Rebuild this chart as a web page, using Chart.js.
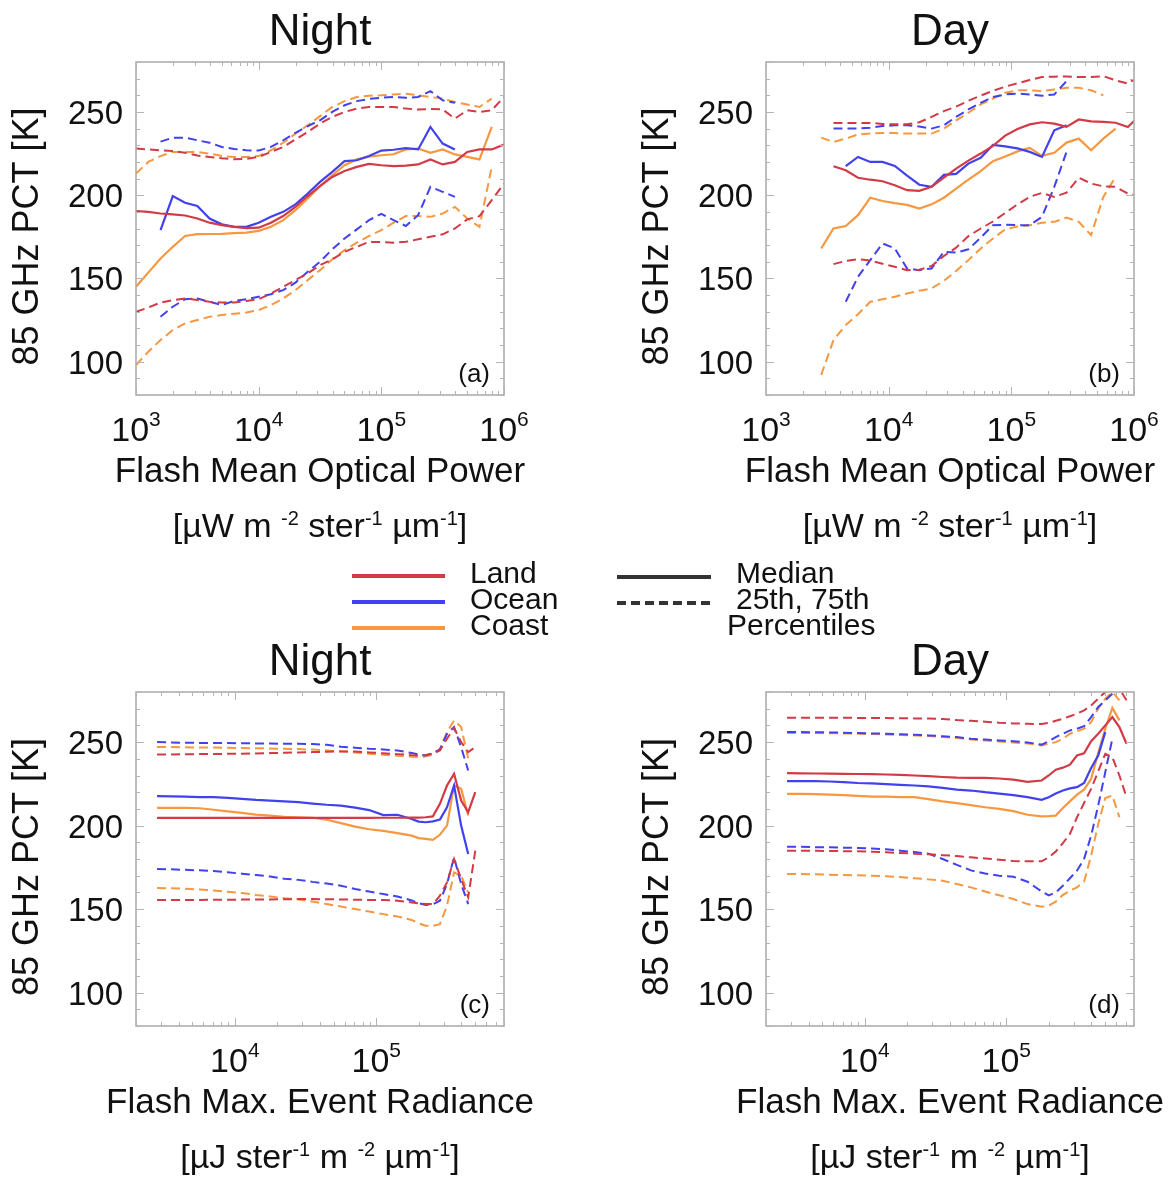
<!DOCTYPE html>
<html>
<head>
<meta charset="utf-8">
<script src="https://cdn.jsdelivr.net/npm/chart.js@4/dist/chart.umd.min.js"></script>
<style>
  html, body { margin: 0; padding: 0; background: #fff; }
  #wrap { position: relative; width: 1168px; height: 1179px; overflow: hidden;
          font-family: "Liberation Sans", Arial, Helvetica, sans-serif; color: #111; }
  #wrap canvas { position: absolute; }
  .legline { position: absolute; height: 4px; z-index: 2; }
  .legtxt { position: absolute; font-size: 30px; line-height: 30px; white-space: nowrap; z-index: 2; }
</style>
</head>
<body>
<div id="wrap">
  <canvas id="panelA" width="584" height="560" style="left:0;top:0"></canvas>
  <canvas id="panelB" width="584" height="560" style="left:584px;top:0"></canvas>
  <canvas id="panelC" width="584" height="619" style="left:0;top:560px"></canvas>
  <canvas id="panelD" width="584" height="619" style="left:584px;top:560px"></canvas>

  <div class="legline" style="left:352px;top:574px;width:93px;background:#d23a46"></div>
  <div class="legline" style="left:352px;top:600px;width:93px;background:#4141ee"></div>
  <div class="legline" style="left:352px;top:626px;width:93px;background:#f7973f"></div>
  <div class="legtxt" style="left:470px;top:558px">Land</div>
  <div class="legtxt" style="left:470px;top:584px">Ocean</div>
  <div class="legtxt" style="left:470px;top:610px">Coast</div>

  <div class="legline" style="left:617px;top:575px;width:94px;height:3.5px;background:#333"></div>
  <div class="legline" style="left:617px;top:601px;width:94px;height:3.5px;background:repeating-linear-gradient(90deg,#333 0 9px,transparent 9px 14px)"></div>
  <div class="legtxt" style="left:736px;top:558px">Median</div>
  <div class="legtxt" style="left:736px;top:584px">25th, 75th</div>
  <div class="legtxt" style="left:727px;top:610px">Percentiles</div>
</div>

<script>
// ---------- bins (x values) ----------
const opticalBinsNight = [1000,1259,1585,1995,2512,3162,3981,5012,6310,7943,10000,12589,15849,19953,25119,31623,39811,50119,63096,79433,100000,125893,158489,199526,251189,316228,398107,501187,630957,794328,1000000];
const opticalBinsDay = [2818,3548,4467,5623,7079,8913,11220,14125,17783,22387,28184,35481,44668,56234,70795,89125,112202,141254,177828,223872,281838,354813,446684,562341,707946,891251,1122018];
const radianceBins = [2818,3548,4467,5623,7079,8913,11220,14125,17783,22387,28184,35481,44668,56234,70795,89125,112202,141254,177828,199526,223872,251189,281838,316228,354813,398107,446684,501187,562341,630957,707946];

// ---------- tick labels ----------
const pctTicks = [100, 150, 200, 250];
const opticalDecades = [3, 4, 5, 6];
const radianceDecades = [4, 5];

// ---------- (a) Night, flash mean optical power ----------
const aLandMed  = [190.5,190,189,188.5,187.8,186,183.5,182,181,180.2,180.5,183.5,187.5,193,199.5,205.5,211,214.5,217,218.8,218,217.5,217.8,218.5,221.5,218.5,220,226,227.5,227.5,230.4];
const aOceanMed = [null,null,179,199.5,195.5,193.5,186,182.5,181,181,183.5,187,190,194.5,201,208,214,220.5,221,223.5,226.8,227.3,228.3,227.5,241,231,227.4,null,null,null,null];
const aCoastMed = [145,153.5,162,169,175.5,176.6,176.7,176.8,177.2,177.5,178.6,181,185,191,198,205.5,212,218,221.5,223.2,224,224.6,227.5,228,225.4,227.5,224.5,223,221.5,241,null];
const aLandP75  = [228,227.5,227,226.6,225.5,223.8,223,222.2,221.6,221.8,223,226,229,233.5,238,243,247,250,252,253,253,253,252,251.4,251.8,251.5,246,251,250,251,259];
const aOceanP75 = [null,null,232.2,234.5,234.5,233,231.5,229,227.8,227,226.8,229,233,237.5,241.5,245,250,254,256.5,257.8,258.5,259,258.5,259,262.5,257,255.5,null,null,null,null];
const aCoastP75 = [213,220,223.5,226,226,226,225,223.5,223,223,223.5,227,231.5,237,242,247.5,253,256.5,259,259.8,260,260.5,261,260,259,258,256,254.5,253,258,null];
const aLandP25  = [130,132.5,135.5,137,138,137,136,135.5,135.5,136.5,137.5,141,145,149,153,158,161.5,166,169,172,171.8,171.5,172,173.5,175,176.5,180,185.5,187.4,197,207];
const aOceanP25 = [null,null,127,133,137.5,138,136,134,136.5,137.5,139,140.5,143,147.5,154,160,167.5,174,179.5,185,188.8,185,181.5,188,205,202,199,null,null,null,null];
const aCoastP25 = [98,106,113,119,123,125,127,128,128.8,129.5,131,134,138,143,149,155,161.5,167,171.5,175.5,179,183.5,187.5,187.5,187,189,193,186,181,217,null];

// ---------- (b) Day, flash mean optical power ----------
const bLandMed  = [null,217.4,215,210.5,209.3,208.4,206,203,202.6,205,210.5,216,220.8,225,229.6,235.8,239.8,242.5,243.8,243,241,245.5,244.3,244,243.5,241,248];
const bOceanMed = [null,null,217.5,223,220,220,217.6,211.7,206.3,205,212.2,212.8,219,222.5,230.2,229.3,228.1,226,223,239,242,null,null,null,null,null,null];
const bCoastMed = [168,180,181.5,188,198.5,196.5,195.2,194.2,192,194.5,198.5,204,209.3,214.5,220.4,223.3,226.3,228.4,223.6,225.5,231.6,234,227,234,240,null,null];
const bLandP75  = [null,243.4,243.4,243.4,243.4,242.8,242.6,242.6,243.8,247,250.5,253.2,256.7,259.8,262.7,265.2,267.2,269.2,271,271.2,271.3,271,271,271.5,269,267,272];
const bOceanP75 = [null,240,240,240,240.5,241.5,242,242,241.2,240,242,247,251.5,255.5,259,260.5,261,260.5,259.7,260.5,268.5,null,null,null,null,null,null];
const bCoastP75 = [234.6,232,234,236.5,237,237.4,237.3,237,237,237,240,245,249.5,254.5,258,261.5,263,263,262.6,263.5,264.5,264.5,263,260,null,null,null];
const bLandP25  = [null,158.6,160.5,161.5,160.8,158.8,157,155,155.2,157.5,163.5,168.5,175.4,180,184.2,189.3,194.5,199,201.4,199,201.5,210.5,207,205.3,205,201,199];
const bOceanP25 = [null,null,136,151,161,171,168,156,155,156,166,165.5,167.5,174.5,182,182.2,182,182,187,205,226,null,null,null,null,null,null];
const bCoastP25 = [92,113,122,128.5,136,137.5,139,141,142.6,144,148.5,154.5,161,168,174,179.5,181.2,182,183.5,184,186.5,184,176,199,211,null,null];

// ---------- (c) Night, flash max. event radiance ----------
const cLandMed  = [204.6,204.6,204.6,204.6,204.6,204.6,204.6,204.6,204.6,204.6,204.6,204.6,204.6,204.6,204.6,204.6,204.7,204.7,204.8,204.8,205,205.5,213,224,231,215,208,220,null,null,null];
const cOceanMed = [217.6,217.5,217.3,217.1,217,216.6,216,215.4,215,214.5,214,213.2,212.5,212,210.8,209.3,206.3,206.5,204,202.4,202,202.5,203.6,211,224,200,183,null,null,null,null];
const cCoastMed = [210.6,210.6,210.6,210.4,209.5,208.5,207.6,206.6,206,205.3,205,204.7,203.5,201.5,199.4,197.8,196.8,195.5,194,192.5,192,191.5,194.5,200,224,222,206,null,null,null,null];
const cLandP75  = [242.6,242.6,242.7,242.8,242.8,243,243,243.2,243.4,243.6,243.8,244,244.2,244.4,244.3,243.8,243.3,242.8,242.2,242,242.3,243,245,252,258.5,250,244,247,null,null,null];
const cOceanP75 = [250,249.8,249.6,249.5,249.4,249.4,249.3,249.2,249.1,249,249,248.8,248.4,247.2,246.6,246,245.6,245,243.5,242.5,242,243.5,245.5,255,259,247,233,null,null,null,null];
const cCoastP75 = [247,247,246.9,246.8,246.7,246.6,246.5,246.3,246.2,246,245.8,245.5,245,244.5,243.8,243,242.4,241.8,241.2,241,241.5,242.4,246,256,263,259,240,null,null,null,null];
const cLandP25  = [155.4,155.4,155.5,155.5,155.6,155.6,155.7,155.8,155.8,155.9,156,156,155.9,155.8,155.6,155.5,155.5,155,154,153.5,153,153,158,166,180,168,157,185,null,null,null];
const cOceanP25 = [174,173.8,173.5,173.2,172.8,172,171.2,170.4,169.5,168.2,167.5,166.3,165.3,164,162,160.5,159,157.5,155.2,153.5,152.5,152.8,155,165,181,165,153,null,null,null,null];
const cCoastP25 = [162.6,162.5,162.2,161.8,161.2,160.4,159.6,158.5,157.6,156.5,155.8,154.5,153,151.5,150,148.5,147,145.6,143.5,141.5,140,140,141,152,172,170,160,null,null,null,null];

// ---------- (d) Day, flash max. event radiance ----------
const dLandMed  = [231.4,231.3,231.2,231.1,231,230.9,230.8,230.6,230.4,230,229.6,229.1,228.7,228.6,228.6,228.2,227.5,226.2,227,230,233.5,234.7,236.5,242,243.3,250.5,255,260,265,259,249];
const dOceanMed = [226.6,226.6,226.6,226.4,226,225.5,225.3,224.8,224.4,224,223.5,222.6,221.5,221,220,219.2,218.2,217,215.4,217,219.2,221,222.3,223,225.5,234.5,242,256,null,null,null];
const dCoastMed = [219,219,218.8,218.6,218.2,217.8,217.4,217.3,217.1,217,215.8,214.5,213.5,212.3,211,210,208.7,206.5,205.5,205.7,206,210.5,214.5,218.5,221.5,228,243.5,258,270.5,263,null];
const dLandP75  = [264.6,264.6,264.6,264.6,264.6,264.5,264.5,264.4,264.3,264.2,264.2,263.8,263.2,262.8,262.2,261.6,261.2,261,260.8,261.5,262.8,264,265.5,267,269,272,276,280,284,282,275];
const dOceanP75 = [256,256,255.9,255.8,255.6,255.4,255.2,255,254.7,254.4,254,253.5,253,252,251.5,251,250.5,249.8,248.5,250.5,253,255,257,258,259.5,265,271,275,279,null,null];
const dCoastP75 = [255.5,255.5,255.4,255.3,255.2,255,254.8,254.6,254.3,254,253.6,253,252.4,251.6,251,250.4,249.8,249.2,248,249,250,252,255,256.5,258,262,270,276,280,275,null];
const dLandP25  = [185,185,184.9,184.8,184.7,184.6,184.3,184,183.6,183.2,182.8,182.3,181.8,181,180.3,179.6,178.8,178.6,178.6,181,184.5,189.5,195,205,213.5,222,232.5,243,241,230,217];
const dOceanP25 = [187.4,187.3,187.1,187,186.8,186.6,186.3,185.8,185,184.2,183.2,180,176.5,173.2,171.3,170,169.4,166.4,160.5,158.2,160,164,168.5,173,180,194,212,232,252,null,null];
const dCoastP25 = [171,171,170.8,170.6,170.4,170.2,170,169.6,169.2,168.5,167.8,167,165,163,160.5,158.3,156,153,151.4,152,154.5,158.5,161,163,166.5,182,201,216.5,218,205,null];

// ---------- styling ----------
const FONT = '"Liberation Sans", Arial, Helvetica, sans-serif';
const COLORS = { land: '#d23a46', ocean: '#4141ee', coast: '#f7973f' };
const TEXT = '#111';

function buildDatasets(s) {
  const keys = ['land', 'ocean', 'coast'];
  const names = { land: 'Land', ocean: 'Ocean', coast: 'Coast' };
  const sets = [];
  keys.forEach(k => sets.push({
    label: names[k] + ' median', data: s[k + 'Med'], borderColor: COLORS[k],
    borderWidth: 2.2, pointRadius: 0, tension: 0, spanGaps: false, fill: false
  }));
  keys.forEach(k => {
    ['P75', 'P25'].forEach(p => sets.push({
      label: names[k] + (p === 'P75' ? ' 75th' : ' 25th'), data: s[k + p], borderColor: COLORS[k],
      borderWidth: 2, borderDash: [9, 5], pointRadius: 0, tension: 0, spanGaps: false, fill: false
    }));
  });
  return sets;
}

// draw a run of text pieces, some of them raised as superscripts, centred on cx
function drawRich(ctx, parts, cx, baseline, size, supSize, raise) {
  let total = 0;
  parts.forEach(p => {
    ctx.font = (p.sup ? supSize : size) + 'px ' + FONT;
    p.w = ctx.measureText(p.t).width;
    total += p.w;
  });
  let x = cx - total / 2;
  ctx.textAlign = 'left';
  ctx.textBaseline = 'alphabetic';
  parts.forEach(p => {
    ctx.font = (p.sup ? supSize : size) + 'px ' + FONT;
    ctx.fillText(p.t, x, p.sup ? baseline - raise : baseline);
    x += p.w;
  });
}

// frame, inward ticks, tick labels and titles around each plot
const axesDecor = {
  id: 'axesDecor',
  afterDraw(chart, args, o) {
    const { ctx, chartArea: a, scales: { x, y } } = chart;
    ctx.save();
    const seg = (x1, y1, x2, y2) => { ctx.beginPath(); ctx.moveTo(x1, y1); ctx.lineTo(x2, y2); ctx.stroke(); };

    // box
    ctx.strokeStyle = '#a9a9a9';
    ctx.lineWidth = 1.5;
    ctx.strokeRect(a.left, a.top, a.right - a.left, a.bottom - a.top);

    // y ticks every 10 K, longer every 50 K
    ctx.lineWidth = 1;
    ctx.strokeStyle = '#b4b4b4';
    for (let v = Math.ceil(y.min / 10) * 10; v <= y.max; v += 10) {
      const py = Math.round(y.getPixelForValue(v)) + 0.5;
      const len = v % 50 === 0 ? 8 : 4;
      seg(a.left, py, a.left + len, py);
      seg(a.right, py, a.right - len, py);
    }
    // logarithmic x ticks
    const d0 = Math.floor(Math.log10(x.min)), d1 = Math.ceil(Math.log10(x.max));
    for (let d = d0; d <= d1; d++) {
      for (let m = 1; m < 10; m++) {
        const v = m * Math.pow(10, d);
        if (v < x.min * 0.999 || v > x.max * 1.001) continue;
        const px = Math.round(x.getPixelForValue(v)) + 0.5;
        const len = m === 1 ? 8 : 4;
        seg(px, a.bottom, px, a.bottom - len);
        seg(px, a.top, px, a.top + len);
      }
    }

    ctx.fillStyle = TEXT;
    // y tick labels
    ctx.font = '33px ' + FONT;
    ctx.textAlign = 'right';
    ctx.textBaseline = 'alphabetic';
    o.yTicks.forEach(v => ctx.fillText(String(v), a.left - 13, y.getPixelForValue(v) + 12));

    // x tick labels: 10 with raised exponent
    o.decades.forEach(e => {
      const px = x.getPixelForValue(Math.pow(10, e));
      drawRich(ctx, [{ t: '10' }, { t: String(e), sup: true }], px, a.bottom + 46, 34, 21, 15);
    });

    // y title
    ctx.save();
    ctx.translate(a.left - 98, (a.top + a.bottom) / 2 + 8);
    ctx.rotate(-Math.PI / 2);
    ctx.font = '36px ' + FONT;
    ctx.textAlign = 'center';
    ctx.textBaseline = 'alphabetic';
    ctx.fillText('85 GHz PCT [K]', 0, 0);
    ctx.restore();

    const cx = (a.left + a.right) / 2;
    // panel title
    ctx.font = '44px ' + FONT;
    ctx.textAlign = 'center';
    ctx.fillText(o.title, cx, a.top - 17);

    // x title and units
    ctx.font = '35px ' + FONT;
    ctx.fillText(o.xTitle, cx, a.bottom + 87);
    drawRich(ctx, o.units, cx, a.bottom + 142, 34, 20, 12);

    // panel tag
    ctx.font = '26px ' + FONT;
    ctx.textAlign = 'right';
    ctx.fillText(o.tag, a.right - 14, a.bottom - 13);
    ctx.restore();
  }
};

const unitsPower = [
  { t: '[\u00b5W m ' }, { t: '-2', sup: true }, { t: ' ster' }, { t: '-1', sup: true },
  { t: ' \u00b5m' }, { t: '-1', sup: true }, { t: ']' }
];
const unitsRadiance = [
  { t: '[\u00b5J ster' }, { t: '-1', sup: true }, { t: ' m ' }, { t: '-2', sup: true },
  { t: ' \u00b5m' }, { t: '-1', sup: true }, { t: ']' }
];

function makePanel(canvasId, origin, box, bins, series, xRange, deco) {
  const cv = document.getElementById(canvasId);
  new Chart(cv, {
    type: 'line',
    data: { labels: bins, datasets: buildDatasets(series) },
    options: {
      responsive: false,
      animation: false,
      devicePixelRatio: 1,
      layout: {
        padding: {
          left: box.left - origin.x,
          top: box.top - origin.y,
          right: origin.x + cv.width - box.right,
          bottom: origin.y + cv.height - box.bottom
        }
      },
      scales: {
        x: { type: 'logarithmic', min: xRange[0], max: xRange[1], display: false },
        y: { type: 'linear', min: 80, max: 280, display: false }
      },
      plugins: {
        legend: { display: false },
        tooltip: { enabled: false },
        axesDecor: Object.assign({ yTicks: pctTicks }, deco)
      }
    },
    plugins: [axesDecor]
  });
}

makePanel('panelA', { x: 0, y: 0 }, { left: 136, top: 62, right: 504, bottom: 395 }, opticalBinsNight,
  { landMed: aLandMed, oceanMed: aOceanMed, coastMed: aCoastMed, landP75: aLandP75, oceanP75: aOceanP75,
    coastP75: aCoastP75, landP25: aLandP25, oceanP25: aOceanP25, coastP25: aCoastP25 },
  [1000, 1000000],
  { title: 'Night', tag: '(a)', xTitle: 'Flash Mean Optical Power', units: unitsPower, decades: opticalDecades });

makePanel('panelB', { x: 584, y: 0 }, { left: 766, top: 62, right: 1134, bottom: 395 }, opticalBinsDay,
  { landMed: bLandMed, oceanMed: bOceanMed, coastMed: bCoastMed, landP75: bLandP75, oceanP75: bOceanP75,
    coastP75: bCoastP75, landP25: bLandP25, oceanP25: bOceanP25, coastP25: bCoastP25 },
  [1000, 1000000],
  { title: 'Day', tag: '(b)', xTitle: 'Flash Mean Optical Power', units: unitsPower, decades: opticalDecades });

makePanel('panelC', { x: 0, y: 560 }, { left: 136, top: 692, right: 504, bottom: 1026 }, radianceBins,
  { landMed: cLandMed, oceanMed: cOceanMed, coastMed: cCoastMed, landP75: cLandP75, oceanP75: cOceanP75,
    coastP75: cCoastP75, landP25: cLandP25, oceanP25: cOceanP25, coastP25: cCoastP25 },
  [2000, 800000],
  { title: 'Night', tag: '(c)', xTitle: 'Flash Max. Event Radiance', units: unitsRadiance, decades: radianceDecades });

makePanel('panelD', { x: 584, y: 560 }, { left: 766, top: 692, right: 1134, bottom: 1026 }, radianceBins,
  { landMed: dLandMed, oceanMed: dOceanMed, coastMed: dCoastMed, landP75: dLandP75, oceanP75: dOceanP75,
    coastP75: dCoastP75, landP25: dLandP25, oceanP25: dOceanP25, coastP25: dCoastP25 },
  [2000, 800000],
  { title: 'Day', tag: '(d)', xTitle: 'Flash Max. Event Radiance', units: unitsRadiance, decades: radianceDecades });
</script>
</body>
</html>
